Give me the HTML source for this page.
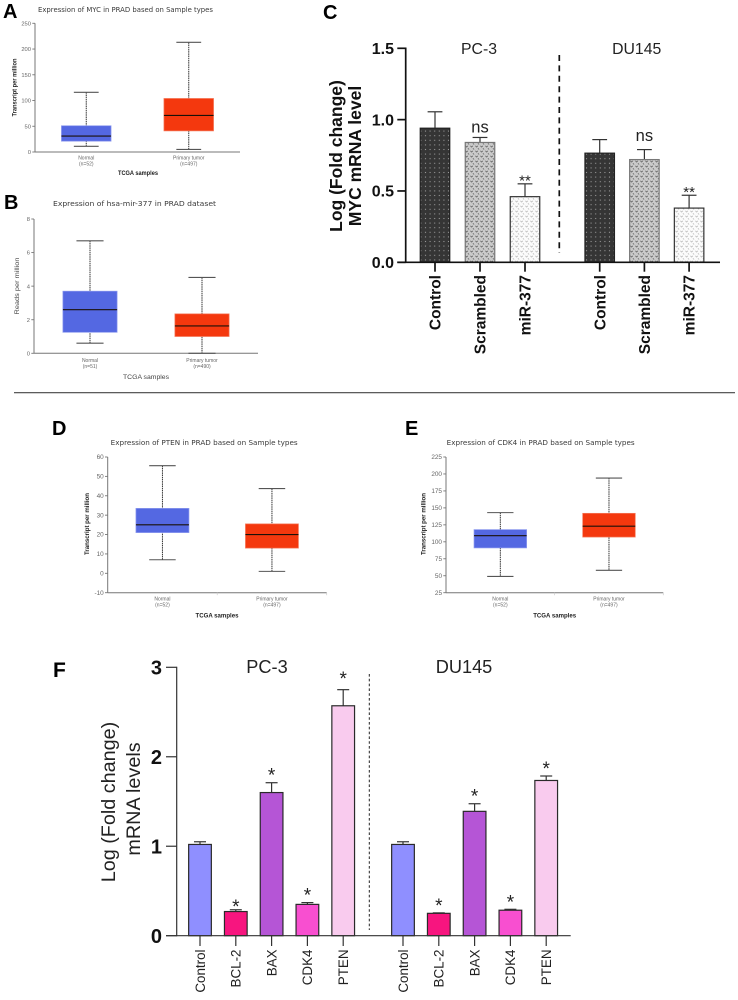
<!DOCTYPE html>
<html lang="en">
<head>
<meta charset="utf-8">
<title>MYC mir-377 PRAD figure</title>
<style>
html,body{margin:0;padding:0;background:#fff;width:738px;height:1000px;overflow:hidden}
svg{display:block;filter:blur(0.3px)}
text{font-family:"Liberation Sans",sans-serif}
.panel{font-weight:bold;fill:#000}
.boxtitle{font-family:"DejaVu Sans","Liberation Sans",sans-serif;fill:#3a3a3a}
</style>
</head>
<body>
<svg id="fig" xmlns="http://www.w3.org/2000/svg" width="738" height="1000" viewBox="0 0 738 1000">
<defs>
<pattern id="patDark" width="4.6" height="4.6" patternUnits="userSpaceOnUse">
<rect width="4.6" height="4.6" fill="#353535"/><circle cx="2.3" cy="2.3" r="0.6" fill="#a0a0a0"/>
</pattern>
<pattern id="patMid" width="5" height="5" patternUnits="userSpaceOnUse">
<rect width="5" height="5" fill="#cacaca"/><path d="M0.4 0.8 L1.6 2 L2.8 0.8 M2.9 3.3 L4.1 4.5" stroke="#666" stroke-width="0.8" fill="none"/>
</pattern>
<pattern id="patLight" width="5" height="5" patternUnits="userSpaceOnUse">
<rect width="5" height="5" fill="#fbfbfb"/><path d="M0.4 0.8 L1.6 2 L2.8 0.8 M2.9 3.3 L4.1 4.5" stroke="#bdbdbd" stroke-width="0.8" fill="none"/>
</pattern>
</defs>
<rect x="0" y="0" width="738" height="1000" fill="#fff"/>
<text class="panel" x="3" y="18" font-size="20">A</text>
<text class="panel" x="4" y="209" font-size="20">B</text>
<text class="panel" x="323" y="19" font-size="20">C</text>
<text class="panel" x="52" y="435" font-size="20">D</text>
<text class="panel" x="405" y="435" font-size="20">E</text>
<text class="panel" x="53" y="677" font-size="21">F</text>
<text class="boxtitle" x="38" y="12" font-size="7.2" textLength="175" lengthAdjust="spacingAndGlyphs">Expression of MYC in PRAD based on Sample types</text>
<text class="boxtitle" x="53" y="206" font-size="7.2" textLength="163" lengthAdjust="spacingAndGlyphs">Expression of hsa-mir-377 in PRAD dataset</text>
<text class="boxtitle" x="110.7" y="445" font-size="7.2" textLength="187" lengthAdjust="spacingAndGlyphs">Expression of PTEN in PRAD based on Sample types</text>
<text class="boxtitle" x="446.7" y="445" font-size="7.2" textLength="188" lengthAdjust="spacingAndGlyphs">Expression of CDK4 in PRAD based on Sample types</text>
<line x1="14" y1="392.7" x2="735" y2="392.7" stroke="#444" stroke-width="1.1"/>

<text transform="translate(342,156) rotate(-90)" text-anchor="middle" font-size="17.5" font-weight="bold" fill="#111">Log (Fold change)</text>
<text transform="translate(361,156) rotate(-90)" text-anchor="middle" font-size="17.5" font-weight="bold" fill="#111">MYC mRNA level</text>
<text x="479" y="54" text-anchor="middle" font-size="15.8" fill="#222">PC-3</text>
<text x="636.7" y="54" text-anchor="middle" font-size="15.8" fill="#222">DU145</text>
<line x1="559.3" y1="55" x2="559.3" y2="253" stroke="#111" stroke-width="1.7" stroke-dasharray="6 4.4"/>

<text transform="translate(115,802) rotate(-90)" text-anchor="middle" font-size="19.8" fill="#222">Log (Fold change)</text>
<text transform="translate(140,799) rotate(-90)" text-anchor="middle" font-size="19.8" fill="#222">mRNA levels</text>
<text x="267" y="673" text-anchor="middle" font-size="18.2" fill="#222">PC-3</text>
<text x="464" y="673" text-anchor="middle" font-size="18.2" fill="#222">DU145</text>
<line x1="369.3" y1="674" x2="369.3" y2="930" stroke="#222" stroke-width="1" stroke-dasharray="2.6 2.2"/>
</svg>
<script>
// Panel A: MYC expression
const aCategories = ['Normal', 'Primary tumor'];
const aCounts = ['(n=52)', '(n=497)'];
const aLow = [11, 5];
const aQ1 = [21, 41];
const aMedian = [31, 71];
const aQ3 = [51, 104];
const aHigh = [116, 213];
const aTicks = [0, 50, 100, 150, 200, 250];

// Panel B: hsa-mir-377 expression
const bCategories = ['Normal', 'Primary tumor'];
const bCounts = ['(n=51)', '(n=490)'];
const bLow = [0.6, 0];
const bQ1 = [1.25, 1.0];
const bMedian = [2.6, 1.63];
const bQ3 = [3.7, 2.35];
const bHigh = [6.7, 4.52];
const bTicks = [0, 2, 4, 6, 8];

// Panel D: PTEN expression
const dCategories = ['Normal', 'Primary tumor'];
const dCounts = ['(n=52)', '(n=497)'];
const dLow = [7, 1];
const dQ1 = [21, 13];
const dMedian = [25, 20];
const dQ3 = [33.5, 25.5];
const dHigh = [55.5, 43.7];
const dTicks = [-10, 0, 10, 20, 30, 40, 50, 60];

// Panel E: CDK4 expression
const eCategories = ['Normal', 'Primary tumor'];
const eCounts = ['(n=52)', '(n=497)'];
const eLow = [49, 58];
const eQ1 = [91, 107];
const eMedian = [109, 123];
const eQ3 = [118, 142];
const eHigh = [143, 194];
const eTicks = [25, 50, 75, 100, 125, 150, 175, 200, 225];

// Panel C: MYC mRNA level
const cCategories = ['Control', 'Scrambled', 'miR-377', 'Control', 'Scrambled', 'miR-377'];
const cValues = [0.94, 0.84, 0.46, 0.765, 0.72, 0.38];
const cErrorTops = [1.055, 0.875, 0.55, 0.86, 0.79, 0.47];
const cMarks = ['', 'ns', '**', '', 'ns', '**'];
const cTicks = ['0.0', '0.5', '1.0', '1.5'];

// Panel F: mRNA levels
const fCategories = ['Control', 'BCL-2', 'BAX', 'CDK4', 'PTEN', 'Control', 'BCL-2', 'BAX', 'CDK4', 'PTEN'];
const fValues = [1.02, 0.27, 1.60, 0.35, 2.57, 1.02, 0.25, 1.39, 0.285, 1.735];
const fErrorTops = [1.05, 0.29, 1.71, 0.37, 2.75, 1.05, 0.255, 1.475, 0.295, 1.785];
const fMarks = ['', '*', '*', '*', '*', '', '*', '*', '*', '*'];
const fTicks = [0, 1, 2, 3];

const svg = document.getElementById('fig');
const NS = 'http://www.w3.org/2000/svg';
const BLUE = '#5468e2', BLUE_EDGE = '#8d9aee', RED = '#f4380e', RED_EDGE = '#f57a5c';

function mk(tag, attrs, text) {
  const el = document.createElementNS(NS, tag);
  for (const k in attrs) el.setAttribute(k, attrs[k]);
  if (text !== undefined) el.textContent = text;
  svg.appendChild(el);
  return el;
}
function linearScale(d0, d1, r0, r1) {
  return v => r0 + (v - d0) * (r1 - r0) / (d1 - d0);
}

function drawBoxChart(id, d, g) {
  const y = linearScale(d.ticks[0], d.ticks[d.ticks.length - 1], g.bottom, g.top);
  const band = (g.right - g.left) / d.categories.length;
  const boxW = band * 0.484;
  let el;
  el = mk('line', {x1: g.left, y1: g.top, x2: g.left, y2: g.bottom, stroke: '#777', 'stroke-width': 1});
  
  
  el = mk('line', {x1: g.left, y1: g.bottom, x2: g.right, y2: g.bottom, stroke: '#777', 'stroke-width': 1});
  
  
  d.ticks.forEach(t => {
    el = mk('line', {x1: g.left - 2.7, y1: y(t), x2: g.left, y2: y(t), stroke: '#777', 'stroke-width': 0.9});
    
    
    el = mk('text', {x: g.left - 4, y: y(t) + 2.1, 'text-anchor': 'end', 'font-size': g.tickFont, fill: '#666'}, String(t));
    
    
  });
  d.categories.forEach((c, i) => {
    const cx = g.left + (i + 0.5) * band;
    const fill = i === 0 ? BLUE : RED;
    const edge = i === 0 ? BLUE_EDGE : RED_EDGE;
    el = mk('line', {x1: cx, y1: y(d.high[i]), x2: cx, y2: y(d.low[i]), stroke: '#333', 'stroke-width': 1, 'stroke-dasharray': '1.5 0.7'});
    
    
    el = mk('rect', {x: cx - boxW / 2, y: y(d.q3[i]), width: boxW, height: y(d.q1[i]) - y(d.q3[i]), fill: fill, stroke: edge, 'stroke-width': 0.7});
    
    
    el = mk('line', {x1: cx - boxW / 2, y1: y(d.median[i]), x2: cx + boxW / 2, y2: y(d.median[i]), stroke: '#1a1008', 'stroke-width': 1.1});
    
    
    [d.low[i], d.high[i]].forEach(v => {
      el = mk('line', {x1: cx - boxW / 4, y1: y(v), x2: cx + boxW / 4, y2: y(v), stroke: '#555', 'stroke-width': 1.1});
      
      
    });
    el = mk('text', {x: cx, y: g.bottom + g.catDy, 'text-anchor': 'middle', 'font-size': 5, fill: '#666'}, c);
    
    
    el = mk('text', {x: cx, y: g.bottom + g.catDy + 6, 'text-anchor': 'middle', 'font-size': 5, fill: '#666'}, d.counts[i]);
    
    
    if (g.gridTicks) {
      el = mk('line', {x1: g.left + (i + 1) * band, y1: g.bottom, x2: g.left + (i + 1) * band, y2: g.bottom + 2.5, stroke: '#ccc', 'stroke-width': 0.7});
      
      
    }
  });
  el = mk('text', {transform: 'translate(' + g.ylabX + ',' + g.ylabY + ') rotate(-90)', 'text-anchor': 'middle', 'font-size': 6.8, 'font-weight': g.labelWeight, fill: g.labelFill, textLength: g.ylabLen, lengthAdjust: 'spacingAndGlyphs'}, g.ylabel);
  
  
  el = mk('text', {x: g.xlabX, y: g.xlabY, 'text-anchor': 'middle', 'font-size': 6.8, 'font-weight': g.labelWeight, fill: g.labelFill, textLength: g.xlabLen, lengthAdjust: 'spacingAndGlyphs'}, 'TCGA samples');
  
  
}

drawBoxChart('chart-a',
  {categories: aCategories, counts: aCounts, low: aLow, q1: aQ1, median: aMedian, q3: aQ3, high: aHigh, ticks: aTicks},
  {left: 35, right: 240, top: 23.3, bottom: 152, tickFont: 5.8, catDy: 7.5, ylabel: 'Transcript per million', ylabX: 16.5, ylabY: 87.5, ylabLen: 58, xlabX: 138, xlabY: 175, xlabLen: 40, labelWeight: 'bold', labelFill: '#222'});
drawBoxChart('chart-b',
  {categories: bCategories, counts: bCounts, low: bLow, q1: bQ1, median: bMedian, q3: bQ3, high: bHigh, ticks: bTicks},
  {left: 34, right: 258, top: 219, bottom: 353.3, tickFont: 5.8, catDy: 8.5, ylabel: 'Reads per million', ylabX: 19, ylabY: 286, ylabLen: 57, xlabX: 146, xlabY: 379, xlabLen: 46, labelWeight: 'normal', labelFill: '#444'});
drawBoxChart('chart-d',
  {categories: dCategories, counts: dCounts, low: dLow, q1: dQ1, median: dMedian, q3: dQ3, high: dHigh, ticks: dTicks},
  {left: 107.7, right: 326.7, top: 457, bottom: 592.7, tickFont: 6.4, catDy: 7.8, gridTicks: true, ylabel: 'Transcript per million', ylabX: 89, ylabY: 524, ylabLen: 62, xlabX: 217, xlabY: 617.5, xlabLen: 43, labelWeight: 'bold', labelFill: '#222'});
drawBoxChart('chart-e',
  {categories: eCategories, counts: eCounts, low: eLow, q1: eQ1, median: eMedian, q3: eQ3, high: eHigh, ticks: eTicks},
  {left: 446, right: 663.3, top: 457, bottom: 592.7, tickFont: 6.4, catDy: 7.8, gridTicks: true, ylabel: 'Transcript per million', ylabX: 425.5, ylabY: 524, ylabLen: 62, xlabX: 554.7, xlabY: 617.5, xlabLen: 43, labelWeight: 'bold', labelFill: '#222'});

// Bar chart C
const cPatterns = ['url(#patDark)', 'url(#patMid)', 'url(#patLight)', 'url(#patDark)', 'url(#patMid)', 'url(#patLight)'];
const cEdges = ['#222', '#777', '#333', '#222', '#777', '#333'];
(function () {
  const y = linearScale(0, 1.5, 262.3, 48.3);
  const cx = i => (i < 3 ? 435 + i * 45 : 599.7 + (i - 3) * 44.7);
  const w = 29.5;
  let el;
  cCategories.forEach((c, i) => {
    el = mk('line', {x1: cx(i), y1: y(cValues[i]), x2: cx(i), y2: y(cErrorTops[i]), stroke: '#333', 'stroke-width': 1.2});
    
    
    el = mk('line', {x1: cx(i) - 7.4, y1: y(cErrorTops[i]), x2: cx(i) + 7.4, y2: y(cErrorTops[i]), stroke: '#333', 'stroke-width': 1.2});
    
    
    el = mk('rect', {x: cx(i) - w / 2, y: y(cValues[i]), width: w, height: y(0) - y(cValues[i]), fill: cPatterns[i], stroke: cEdges[i], 'stroke-width': 1.2});
    
    
    el = mk('line', {x1: cx(i), y1: y(0), x2: cx(i), y2: 271.7, stroke: '#111', 'stroke-width': 1.7});
    
    
    el = mk('text', {transform: 'translate(' + (cx(i) + 5.6) + ',275) rotate(-90)', 'text-anchor': 'end', 'font-size': 15.5, 'font-weight': 'bold', fill: '#111'}, c);
    
    
    if (cMarks[i] === 'ns') {
      const lift = i === 1 ? 5 : 8.7;
      el = mk('text', {x: cx(i), y: y(cErrorTops[i]) - lift, 'text-anchor': 'middle', 'font-size': 16.5, fill: '#222'}, cMarks[i]);
      
      
    } else if (cMarks[i]) {
      el = mk('text', {x: cx(i), y: y(cErrorTops[i]) + 1.8, 'text-anchor': 'middle', 'font-size': 15, fill: '#222'}, cMarks[i]);
      
      
    }
  });
  el = mk('line', {x1: 405.7, y1: 47.5, x2: 405.7, y2: 263, stroke: '#111', 'stroke-width': 1.7});
  
  
  el = mk('line', {x1: 397.3, y1: y(0), x2: 720, y2: y(0), stroke: '#111', 'stroke-width': 1.7});
  
  
  cTicks.forEach(t => {
    el = mk('line', {x1: 397.3, y1: y(+t), x2: 405.7, y2: y(+t), stroke: '#111', 'stroke-width': 1.7});
    
    
    el = mk('text', {x: 394, y: y(+t) + 5.7, 'text-anchor': 'end', 'font-size': 16, 'font-weight': 'bold', fill: '#111'}, t);
    
    
  });
})();

// Bar chart F
const fColors = ['#8f8fff', '#f7157f', '#b555d6', '#f84fd0', '#f9cbee', '#8f8fff', '#f7157f', '#b555d6', '#f84fd0', '#f9cbee'];
(function () {
  const y = linearScale(0, 3, 935.7, 667.3);
  const cx = i => (i < 5 ? 200 + i * 35.8 : 403 + (i - 5) * 35.8);
  const w = 22.7;
  let el;
  fCategories.forEach((c, i) => {
    el = mk('line', {x1: cx(i), y1: y(fValues[i]), x2: cx(i), y2: y(fErrorTops[i]), stroke: '#333', 'stroke-width': 1.2});
    
    
    el = mk('line', {x1: cx(i) - 6, y1: y(fErrorTops[i]), x2: cx(i) + 6, y2: y(fErrorTops[i]), stroke: '#333', 'stroke-width': 1.2});
    
    
    el = mk('rect', {x: cx(i) - w / 2, y: y(fValues[i]), width: w, height: y(0) - y(fValues[i]), fill: fColors[i], stroke: '#2a2a2a', 'stroke-width': 1.2});
    
    
    el = mk('line', {x1: cx(i), y1: y(0), x2: cx(i), y2: 946, stroke: '#333', 'stroke-width': 1.2});
    
    
    el = mk('text', {transform: 'translate(' + (cx(i) + 4.8) + ',949.5) rotate(-90)', 'text-anchor': 'end', 'font-size': 13.4, fill: '#222'}, c);
    
    
    if (fMarks[i]) {
      const lift = i === 4 ? 4.5 : i === 1 ? -3 : 1;
      el = mk('text', {x: cx(i), y: y(fErrorTops[i]) - lift, 'text-anchor': 'middle', 'font-size': 19, fill: '#222'}, fMarks[i]);
      
      
    }
  });
  el = mk('line', {x1: 176.7, y1: 666.7, x2: 176.7, y2: 936.3, stroke: '#333', 'stroke-width': 1.2});
  
  
  el = mk('line', {x1: 166, y1: y(0), x2: 570.7, y2: y(0), stroke: '#333', 'stroke-width': 1.2});
  
  
  fTicks.forEach(t => {
    el = mk('line', {x1: 166, y1: y(t), x2: 176.7, y2: y(t), stroke: '#333', 'stroke-width': 1.2});
    
    
    el = mk('text', {x: 162, y: y(t) + 7.3, 'text-anchor': 'end', 'font-size': 20, 'font-weight': 'bold', fill: '#111'}, String(t));
    
    
  });
})();
</script>
</body>
</html>
